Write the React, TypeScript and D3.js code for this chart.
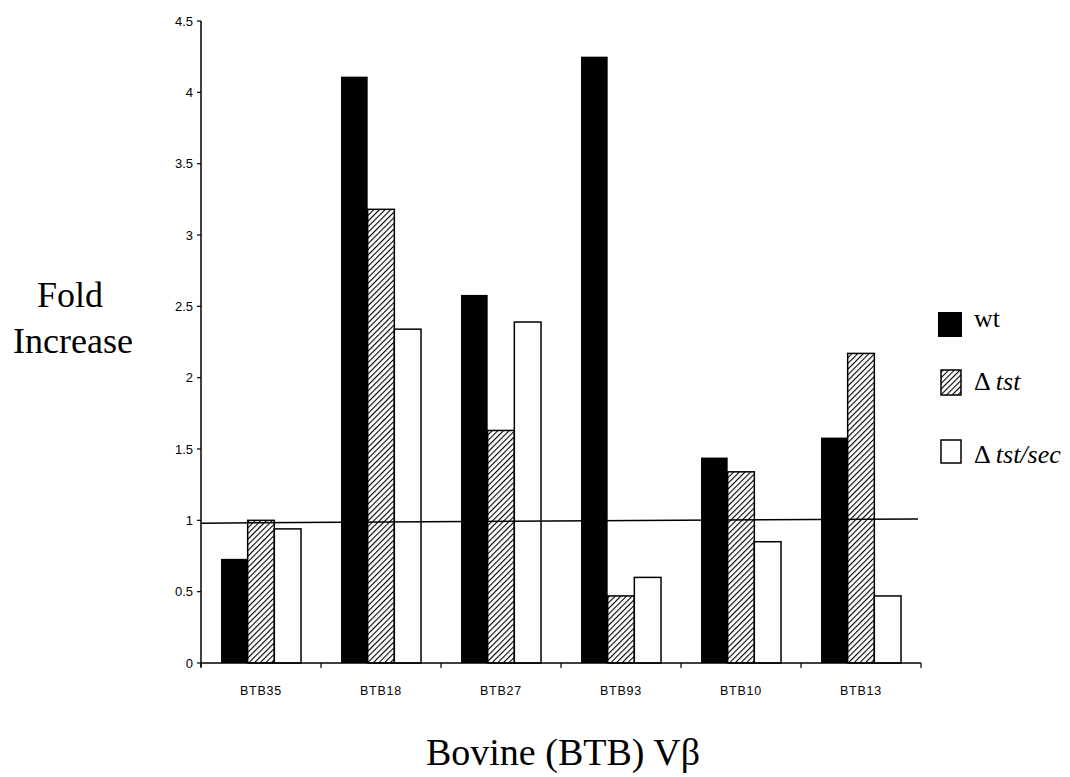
import React from "react";
import * as d3 from "d3";

const categories = ["BTB35", "BTB18", "BTB27", "BTB93", "BTB10", "BTB13"];
const seriesNames = ["wt", "Δ tst", "Δ tst/sec"];
const wtValues = [0.73, 4.11, 2.58, 4.25, 1.44, 1.58];
const tstValues = [1.0, 3.18, 1.63, 0.47, 1.34, 2.17];
const tstSecValues = [0.94, 2.34, 2.39, 0.6, 0.85, 0.47];
const yTicks = [0, 0.5, 1, 1.5, 2, 2.5, 3, 3.5, 4, 4.5];
const refLine = [0.98, 1.01];

const series = [wtValues, tstValues, tstSecValues];

const M = { left: 201, right: 921, top: 21, bottom: 663 };

export default function App() {
  const x = d3.scaleBand<string>().domain(categories).range([M.left, M.right]).paddingInner(0).paddingOuter(0);
  const xs = d3
    .scaleBand<number>()
    .domain([0, 1, 2])
    .range([0, x.bandwidth()])
    .paddingInner(0)
    .paddingOuter(0.75);
  const y = d3.scaleLinear().domain([0, 4.5]).range([M.bottom, M.top]);

  const tickFont = "'Liberation Sans Narrow', 'Arial Narrow', 'Liberation Sans', Arial, sans-serif";
  const serif = "'Liberation Serif', 'Times New Roman', serif";

  const fills = ["#000", "url(#hatch)", "#fff"];

  const legendBoxes = [
    { x: 938, y: 312, w: 24, h: 25 },
    { x: 941, y: 370, w: 20, h: 25 },
    { x: 941, y: 440, w: 20, h: 23 },
  ];
  const legendBase = [327, 390, 463];

  return (
    <svg width={1070} height={777} style={{ position: "absolute", left: 0, top: 0, background: "#fff" }}>
      <defs>
        <pattern id="hatch" patternUnits="userSpaceOnUse" width={4} height={4} patternTransform="rotate(45)">
          <rect width={4} height={4} fill="#fff" />
          <line x1={0} y1={0} x2={0} y2={4} stroke="#000" strokeWidth={2.2} />
        </pattern>
      </defs>

      {/* bars */}
      {categories.map((c, i) =>
        series.map((vals, s) => {
          const bx = (x(c) as number) + (xs(s) as number);
          const by = y(vals[i]);
          return (
            <rect
              key={c + s}
              x={bx}
              y={by}
              width={xs.bandwidth()}
              height={y(0) - by}
              fill={fills[s]}
              stroke="#000"
              strokeWidth={s === 0 ? 0 : 1.5}
            />
          );
        })
      )}

      {/* reference line */}
      <line x1={M.left} x2={M.right - 3} y1={y(refLine[0])} y2={y(refLine[1])} stroke="#000" strokeWidth={1.5} />

      {/* y axis */}
      <line x1={M.left} x2={M.left} y1={y(4.5)} y2={y(0) + 4} stroke="#000" strokeWidth={1.5} />
      {yTicks.map((t) => (
        <g key={t}>
          <line x1={M.left - 4} x2={M.left} y1={y(t)} y2={y(t)} stroke="#000" strokeWidth={1.2} />
          <text
            x={M.left - 8}
            y={y(t)}
            dy="0.36em"
            textAnchor="end"
            fontFamily={tickFont}
            fontSize={13}
            fill="#000"
          >
            {String(t)}
          </text>
        </g>
      ))}

      {/* x axis */}
      <line x1={M.left} x2={M.right} y1={y(0)} y2={y(0)} stroke="#000" strokeWidth={1.5} />
      {categories.concat(["end"]).map((c, i) => {
        const tx = M.left + i * x.step();
        return <line key={"xt" + i} x1={tx} x2={tx} y1={y(0)} y2={y(0) + 5} stroke="#000" strokeWidth={1.2} />;
      })}
      {categories.map((c) => (
        <text
          key={"xl" + c}
          x={(x(c) as number) + x.bandwidth() / 2}
          y={695}
          textAnchor="middle"
          fontFamily={tickFont}
          fontSize={12.5}
          letterSpacing={0.8}
          fill="#000"
        >
          {c}
        </text>
      ))}

      {/* axis titles */}
      <text x={70} y={307} textAnchor="middle" fontFamily={serif} fontSize={36} fill="#000">
        Fold
      </text>
      <text x={73} y={353} textAnchor="middle" fontFamily={serif} fontSize={36} fill="#000">
        Increase
      </text>
      <text x={563} y={765} textAnchor="middle" fontFamily={serif} fontSize={38} fill="#000">
        Bovine (BTB) Vβ
      </text>

      {/* legend */}
      {seriesNames.map((n, s) => (
        <g key={n}>
          <rect
            x={legendBoxes[s].x}
            y={legendBoxes[s].y}
            width={legendBoxes[s].w}
            height={legendBoxes[s].h}
            fill={fills[s]}
            stroke="#000"
            strokeWidth={s === 0 ? 0 : 1.5}
          />
          <text x={974} y={legendBase[s]} fontFamily={serif} fontSize={26} fill="#000">
            {s === 0 ? (
              "wt"
            ) : (
              <>
                <tspan>Δ </tspan>
                <tspan fontStyle="italic">{s === 1 ? "tst" : "tst/sec"}</tspan>
              </>
            )}
          </text>
        </g>
      ))}
    </svg>
  );
}
